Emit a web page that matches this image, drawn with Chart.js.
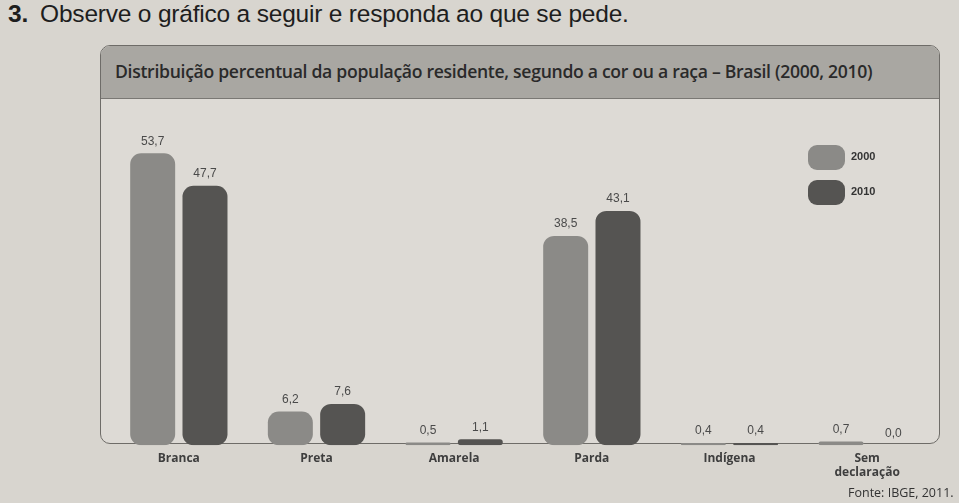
<!DOCTYPE html>
<html>
<head>
<meta charset="utf-8">
<script src="https://cdn.jsdelivr.net/npm/chart.js@4/dist/chart.umd.min.js"></script>
<style>
  html, body { margin:0; padding:0; }
  body { width:959px; height:503px; background:#d8d5cf; position:relative; overflow:hidden; font-family:"Liberation Sans", Arial, sans-serif; }
  #q { position:absolute; left:8px; top:0px; font-size:24.5px; color:#1e1e1e; letter-spacing:-0.2px; }
  #q b { margin-right:12px; }
  #box { position:absolute; left:100px; top:45px; width:838px; height:397px; border:1.5px solid #6e6c68; border-radius:10px; background:#dddad5; overflow:hidden; }
  #head { position:absolute; left:0; top:0; right:0; height:52px; background:#a9a7a2; border-bottom:1.5px solid #7a7874; }
  #title { position:absolute; left:14px; top:13px; font-family:"Open Sans", sans-serif; font-weight:600; font-size:17.6px; letter-spacing:-0.3px; color:#2a2a2a; white-space:nowrap; }
  #wrap { position:absolute; left:100px; top:98px; width:845px; height:388px; }
  #fonte { position:absolute; left:848px; top:484px; font-family:"Open Sans", sans-serif; font-size:12.5px; color:#333; }
</style>
</head>
<body>
<div id="q"><b>3.</b>Observe o gráfico a seguir e responda ao que se pede.</div>
<div id="box"><div id="head"><div id="title">Distribuição percentual da população residente, segundo a cor ou a raça – Brasil (2000, 2010)</div></div></div>
<div id="wrap"><canvas id="c"></canvas></div>
<div id="fonte">Fonte: IBGE, 2011.</div>
<script>
const categories = ["Branca", "Preta", "Amarela", "Parda", "Indígena", ["Sem", "declaração"]];
const seriesNames = ["2000", "2010"];
const values2000 = [53.7, 6.2, 0.5, 38.5, 0.4, 0.7];
const values2010 = [47.7, 7.6, 1.1, 43.1, 0.4, 0.0];
const colors = ["#8b8a87", "#555452"];

const fmt = v => v.toFixed(1).replace(".", ",");

const valueLabels = {
  id: "valueLabels",
  afterDatasetsDraw(chart) {
    const ctx = chart.ctx;
    ctx.save();
    ctx.font = "12px 'Liberation Sans Narrow', 'Liberation Sans', sans-serif";
    ctx.fillStyle = "#4a4a4a";
    ctx.textAlign = "center";
    ctx.textBaseline = "bottom";
    chart.data.datasets.forEach((ds, di) => {
      chart.getDatasetMeta(di).data.forEach((bar, i) => {
        ctx.fillText(fmt(ds.data[i]), bar.x, bar.y - 6);
      });
    });
    ctx.restore();
  }
};

const customLegend = {
  id: "customLegend",
  afterDraw(chart) {
    const ctx = chart.ctx;
    const a = chart.chartArea;
    ctx.save();
    chart.data.datasets.forEach((ds, di) => {
      const x = a.right - 128, y = 47 + di * 35;
      ctx.fillStyle = ds.backgroundColor;
      ctx.beginPath();
      ctx.roundRect(x, y, 37, 25, 9);
      ctx.fill();
      ctx.fillStyle = "#333";
      ctx.font = "bold 11px 'Liberation Sans Narrow', 'Liberation Sans', sans-serif";
      ctx.textBaseline = "middle";
      ctx.textAlign = "left";
      ctx.fillText(ds.label, x + 43, y + 12);
    });
    ctx.restore();
  }
};

new Chart(document.getElementById("c"), {
  type: "bar",
  data: {
    labels: categories,
    datasets: [
      { label: seriesNames[0], data: values2000, backgroundColor: colors[0], borderRadius: 11, borderSkipped: false },
      { label: seriesNames[1], data: values2010, backgroundColor: colors[1], borderRadius: 11, borderSkipped: false }
    ]
  },
  options: {
    responsive: true,
    maintainAspectRatio: false,
    animation: false,
    categoryPercentage: 0.76,
    barPercentage: 0.86,
    layout: { padding: { left: 10, right: 9, top: 21, bottom: 0 } },
    plugins: { legend: { display: false }, tooltip: { enabled: false } },
    scales: {
      x: {
        grid: { display: false, drawTicks: false },
        border: { display: false },
        ticks: {
          padding: 6,
          color: "#3e3e3e",
          font: { family: "'Open Sans', sans-serif", weight: "bold", size: 12 },
          maxRotation: 0
        }
      },
      y: { display: false, min: 0, max: 60 }
    }
  },
  plugins: [valueLabels, customLegend]
});
</script>
</body>
</html>
